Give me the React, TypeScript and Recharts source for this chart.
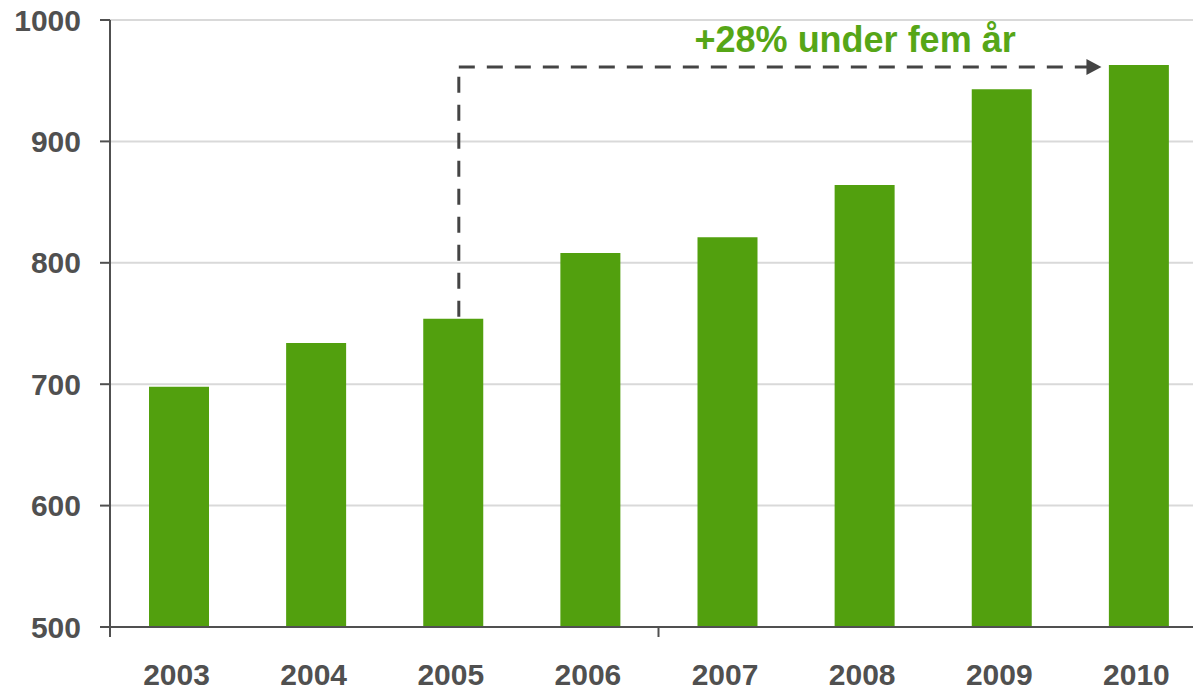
import { Bar, BarChart, CartesianGrid, ReferenceLine, XAxis, YAxis } from "recharts";

const years = ["2003", "2004", "2005", "2006", "2007", "2008", "2009", "2010"];
const values = [698, 734, 754, 808, 821, 864, 943, 963];
const yTicks = [500, 600, 700, 800, 900, 1000];

const growthFrom = "2005";
const growthTo = "2010";
const growthLabel = "+28% under fem år";

const data = years.map((year, i) => ({ year, value: values[i] }));
const startValue = values[years.indexOf(growthFrom)];
const endValue = values[years.indexOf(growthTo)];

const GREEN = "#52A00E";
const TEXT_GREEN = "#56A617";
const DARK = "#505050";
const FONT = "'Liberation Sans', Arial, sans-serif";

const CHART_W = 1208;
const CHART_H = 689;
const X_AXIS_H = 62;
const Y_AXIS_W = 110;
const CAT_WIDTH = (CHART_W - 1 - Y_AXIS_W) / years.length;
const AXIS_Y = CHART_H - X_AXIS_H;

const XTick = (props: any) => {
  const { x, payload, index } = props;
  return (
    <g>
      {index % 4 === 0 && (
        <line
          x1={x - CAT_WIDTH / 2}
          x2={x - CAT_WIDTH / 2}
          y1={AXIS_Y}
          y2={AXIS_Y + 10}
          stroke={DARK}
          strokeWidth={2}
        />
      )}
      <text
        x={x - 2}
        y={AXIS_Y + 58}
        textAnchor="middle"
        fill={DARK}
        fontSize={30}
        fontWeight="bold"
        fontFamily={FONT}
      >
        {payload.value}
      </text>
    </g>
  );
};

const VerticalArrowPart = (props: any) => {
  const { x1, y1, y2 } = props;
  const x = x1 + 6;
  return (
    <line
      x1={x}
      x2={x}
      y1={Math.max(y1, y2) - 2}
      y2={Math.min(y1, y2) + 6}
      stroke="#444"
      strokeWidth={3}
      strokeDasharray="16 12"
    />
  );
};

const HorizontalArrowPart = (props: any) => {
  const { x1, x2, y1 } = props;
  const y = y1 + 2;
  const start = x1 + 6;
  const tip = x2 - 37;
  return (
    <g>
      <line
        x1={start}
        x2={tip - 14}
        y1={y}
        y2={y}
        stroke="#444"
        strokeWidth={3}
        strokeDasharray="16 12"
      />
      <polygon
        points={`${tip - 15},${y - 8} ${tip},${y} ${tip - 15},${y + 8}`}
        fill="#444"
      />
      <text
        x={(start + tip) / 2 + 75}
        y={y - 15}
        textAnchor="middle"
        fill={TEXT_GREEN}
        fontSize={36}
        fontWeight="bold"
        fontFamily={FONT}
      >
        {growthLabel}
      </text>
    </g>
  );
};

const App = () => {
  return (
    <div
      style={{
        position: "fixed",
        top: 0,
        left: 0,
        width: 1193,
        height: CHART_H,
        overflow: "hidden",
        background: "#fff",
      }}
    >
      <BarChart
        width={CHART_W}
        height={CHART_H}
        data={data}
        margin={{ top: 20, right: 1, left: 0, bottom: 0 }}
        style={{ overflow: "visible" }}
      >
        <CartesianGrid vertical={false} stroke="#d9d9d9" strokeWidth={2} />
        <XAxis
          dataKey="year"
          height={X_AXIS_H}
          axisLine={{ stroke: DARK, strokeWidth: 2 }}
          tickLine={false}
          tickSize={0}
          tickMargin={0}
          interval={0}
          tick={<XTick />}
        />
        <YAxis
          width={Y_AXIS_W}
          domain={[500, 1000]}
          ticks={yTicks}
          allowDataOverflow
          axisLine={{ stroke: DARK, strokeWidth: 2 }}
          tickLine={{ stroke: DARK, strokeWidth: 2 }}
          tickSize={10}
          tickMargin={19}
          tick={{ fill: DARK, fontSize: 30, fontWeight: "bold", fontFamily: FONT }}
        />
        <Bar dataKey="value" fill={GREEN} barSize={60} isAnimationActive={false} />
        <ReferenceLine
          segment={[
            { x: growthFrom, y: startValue },
            { x: growthFrom, y: endValue },
          ]}
          ifOverflow="visible"
          shape={<VerticalArrowPart />}
        />
        <ReferenceLine
          segment={[
            { x: growthFrom, y: endValue },
            { x: growthTo, y: endValue },
          ]}
          ifOverflow="visible"
          shape={<HorizontalArrowPart />}
        />
      </BarChart>
    </div>
  );
};

export default App;
